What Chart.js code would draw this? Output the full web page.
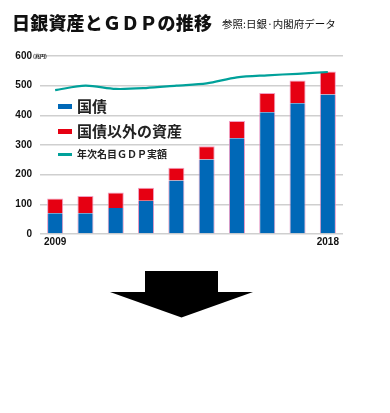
<!DOCTYPE html>
<html><head><meta charset="utf-8">
<script src="https://cdn.jsdelivr.net/npm/chart.js@4"></script>
<style>
html,body{margin:0;padding:0;background:#fff;width:390px;height:413px;overflow:hidden;font-family:"Noto Sans CJK JP","Noto Sans",sans-serif;}
#wrap{position:relative;width:390px;height:413px;}
#c{position:absolute;left:0;top:0;}
.t{position:absolute;white-space:nowrap;color:#111;}
#title{left:12px;top:10px;font-size:18px;font-weight:900;line-height:24px;letter-spacing:0.2px;}
#sub{left:222px;top:16px;font-size:10.5px;line-height:16px;}
#unit{left:33px;top:53px;font-size:5px;line-height:6px;font-weight:700;}
.lg{position:absolute;white-space:nowrap;color:#222;font-weight:700;}
.sw{position:absolute;left:58px;width:14px;}
#arrow{position:absolute;left:0;top:0;}
</style></head>
<body><div id="wrap">
<canvas id="c" width="390" height="250"></canvas>
<div id="title" class="t">日銀資産とＧＤＰの推移</div>
<div id="sub" class="t">参照:日銀·内閣府データ</div>
<div id="unit" class="t">(兆円)</div>
<div class="sw" style="top:104px;height:5px;background:#0068b7"></div>
<div class="lg" style="left:77px;top:96px;font-size:15px;line-height:20px">国債</div>
<div class="sw" style="top:129px;height:5px;background:#e60012"></div>
<div class="lg" style="left:77px;top:121px;font-size:15px;line-height:20px">国債以外の資産</div>
<div class="sw" style="top:153px;height:2.5px;background:#00a19a"></div>
<div class="lg" style="left:77px;top:147px;font-size:10px;line-height:14px">年次名目ＧＤＰ実額</div>
<svg id="arrow" width="390" height="413"><rect x="145" y="271" width="73" height="22" fill="#000"/><polygon points="110,292 253,292 181.5,317.5" fill="#000"/></svg>
</div>
<script>
const years = ["2009","2010","2011","2012","2013","2014","2015","2016","2017","2018"];
const shownYears = ["2009","2018"];
const jgb = [70, 70, 88, 112, 180, 251, 323, 410, 441, 470];
const otherAssets = [50, 58, 52, 44, 43, 45, 58, 65, 76, 78];
const nominalGdp = [485, 500, 489, 492, 500, 508, 528, 535, 540, 546];
const yTicks = [0, 100, 200, 300, 400, 500, 600];

new Chart(document.getElementById('c'), {
  data: {
    labels: years,
    datasets: [
      {type:'line', label:'年次名目ＧＤＰ実額', data:nominalGdp, borderColor:'#00a19a', borderWidth:2.2, pointRadius:0, tension:0.3, order:0},
      {type:'bar', label:'国債', data:jgb, backgroundColor:'#0068b7', borderColor:'rgba(225,140,190,0.9)', borderWidth:{left:1,right:1,top:0,bottom:0}, borderSkipped:false, stack:'s', order:1, categoryPercentage:1, barPercentage:0.53},
      {type:'bar', label:'国債以外の資産', data:otherAssets, backgroundColor:'#e60012', borderColor:'rgba(240,150,190,0.9)', borderWidth:{left:1,right:1,top:1,bottom:0}, borderSkipped:false, stack:'s', order:1, categoryPercentage:1, barPercentage:0.53}
    ]
  },
  options: {
    responsive:false, animation:false,
    layout:{padding:{left:0,right:47,top:56,bottom:0}},
    plugins:{legend:{display:false}, tooltip:{enabled:false}},
    scales:{
      x:{stacked:true, grid:{display:false, drawTicks:false, tickLength:0}, border:{display:false},
         ticks:{padding:2, maxRotation:0, autoSkip:false, color:'#111', font:{family:'"Liberation Sans", Arial, sans-serif', size:10, weight:'bold'},
           callback:(v,i)=> shownYears.includes(years[i]) ? years[i] : ''},
         afterFit:(a)=>{a.height=16;}},
      y:{stacked:true, min:0, max:600, afterBuildTicks:(a)=>{a.ticks=yTicks.map(v=>({value:v}));},
         grid:{color:'#cfcfcf', lineWidth:1.5, drawTicks:false}, border:{display:false},
         ticks:{padding:8, color:'#111', font:{family:'"Liberation Sans", Arial, sans-serif', size:10, weight:'bold'}},
         afterFit:(a)=>{a.width=40;}}
    }
  }
});
</script>
</body></html>
